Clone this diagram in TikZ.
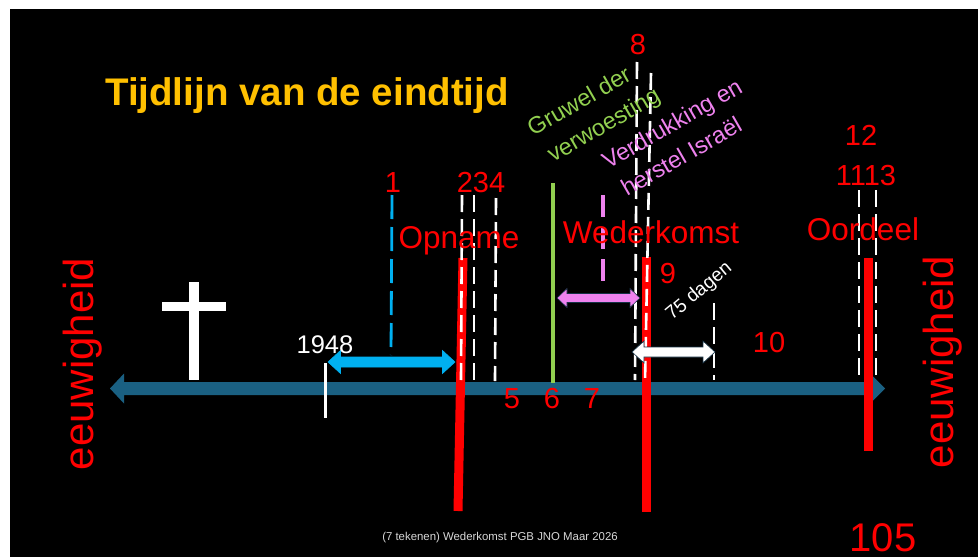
\documentclass[tikz,border=0pt]{standalone}
\usepackage{fontspec}
\setmainfont{Liberation Sans}
\definecolor{axisblue}{RGB}{26,96,130}
\definecolor{cyanarr}{RGB}{0,176,240}
\definecolor{pinkv}{RGB}{238,130,238}
\definecolor{greenl}{RGB}{146,208,80}
\definecolor{titleor}{RGB}{255,192,0}
\definecolor{outl}{RGB}{20,50,70}
\definecolor{footgray}{RGB}{215,215,215}
\newcommand{\dblarr}[8]{%
  \filldraw[fill=#7, draw=#8, line width=0.6pt] (#1,#3) -- (#1+#6,#3-#5) -- (#1+#6,#3-#4) -- (#2-#6,#3-#4) -- (#2-#6,#3-#5) -- (#2,#3) -- (#2-#6,#3+#5) -- (#2-#6,#3+#4) -- (#1+#6,#3+#4) -- (#1+#6,#3+#5) -- cycle;}
\tikzset{
  num/.style={inner sep=0pt, anchor=base, text=red, font=\fontsize{29}{34}\selectfont},
  biglbl/.style={inner sep=0pt, anchor=base, text=red, font=\fontsize{31.5}{36}\selectfont},
  wdash/.style={white, line width=2.6pt, dash pattern=on 17pt off 7pt},
  redbar/.style={red, line width=9pt},
  rotlbl/.style={inner sep=0pt, anchor=base west, rotate=30, font=\fontsize{23.5}{28}\selectfont},
  eternity/.style={inner sep=0pt, anchor=base, rotate=90, text=red, font=\fontsize{42}{48}\selectfont}
}
\begin{document}
\begin{tikzpicture}[x=1pt,y=-1pt]
\useasboundingbox (0,0) rectangle (978,557);
\fill[white] (0,0) rectangle (978,557);
\fill[black] (10,9) rectangle (978,557);

% title
\node[inner sep=0pt, anchor=base, text=titleor, font=\bfseries\fontsize{38.5}{44}\selectfont] (title) at (307,105) {Tijdlijn van de eindtijd};

% main axis
\fill[axisblue] (110,388.5) -- (124,373.5) -- (124,382) -- (873,382) -- (873,376.5) -- (885,388.5) -- (873,400.5) -- (873,395) -- (124,395) -- (124,403.5) -- cycle;

% cross
\fill[white] (189,282) rectangle (199,380);
\fill[white] (162,302) rectangle (226,311);

% 1948 tick
\draw[white, line width=3pt] (325,363) -- (325,418);

% green line
\draw[greenl, line width=3.5pt] (553,183) -- (553,383);

% red bars
\draw[redbar] (463,258) -- (458,511);
\draw[redbar] (646.5,257) -- (646.5,512);
\draw[redbar] (868,258) -- (868,451);

% dashed lines
\draw[cyanarr, line width=2.8pt, dash pattern=on 24pt off 8pt] (392,195) -- (391,355);
\draw[pinkv, line width=3.2pt, dash pattern=on 22pt off 10pt] (603,195) -- (603,290);
\draw[wdash] (462,195) -- (461,380);
\draw[wdash] (474,195) -- (474,381);
\draw[wdash] (496,198) -- (495,381);
\draw[wdash] (637,62) -- (635,380);
\draw[wdash] (651,73) -- (645,382);
\draw[wdash] (714,303) -- (714,380);
\draw[wdash] (859,190) -- (859,380);
\draw[wdash] (876,190) -- (876,380);

% block arrows
\dblarr{328}{455}{362}{5}{11.5}{12.5}{cyanarr}{cyanarr}
\dblarr{557}{640}{298}{4.5}{9.5}{10}{pinkv}{outl}
\dblarr{632}{715}{352}{5}{11}{12}{white}{outl}

% labels
\node[inner sep=0pt, anchor=base, text=white, font=\fontsize{25.5}{30}\selectfont] (y1948) at (325,353) {1948};
\node[num] (n1) at (393,192) {1};
\node[num] (n234) at (481,192) {234};
\node[biglbl] (opname) at (459,248) {Opname};
\node[num] (n5) at (512,408) {5};
\node[num] (n6) at (552,408) {6};
\node[num] (n7) at (592,408) {7};
\node[num] (n8) at (638,54) {8};
\node[biglbl] (wederkomst) at (651,243) {Wederkomst};
\node[num] (n9) at (668,283) {9};
\node[num] (n10) at (769,352) {10};
\node[num] (n12) at (861,145) {12};
\node[num] (n1113) at (866,185) {1113};
\node[biglbl] (oordeel) at (863,240) {Oordeel};
\node[inner sep=0pt, anchor=base, text=red, font=\fontsize{40}{46}\selectfont] (n105) at (883,551.5) {105};

\node[rotlbl, text=greenl] (gruwel1) at (533,137) {Gruwel der};
\node[rotlbl, text=greenl] (gruwel2) at (553,163) {verwoesting};
\node[rotlbl, text=pinkv] (verdr1) at (608,170) {Verdrukking en};
\node[rotlbl, text=pinkv] (verdr2) at (627,197) {herstel Israël};
\node[inner sep=0pt, anchor=base west, rotate=40, text=white, font=\fontsize{19}{23}\selectfont] (dagen) at (672,321) {75 dagen};

\node[eternity] (eeuwL) at (93,364) {eeuwigheid};
\node[eternity] (eeuwR) at (953,362) {eeuwigheid};

\node[inner sep=0pt, anchor=base, text=footgray, font=\fontsize{11.4}{14}\selectfont] (footer) at (500,540) {(7 tekenen) Wederkomst PGB JNO Maar 2026};
\end{tikzpicture}
\end{document}
